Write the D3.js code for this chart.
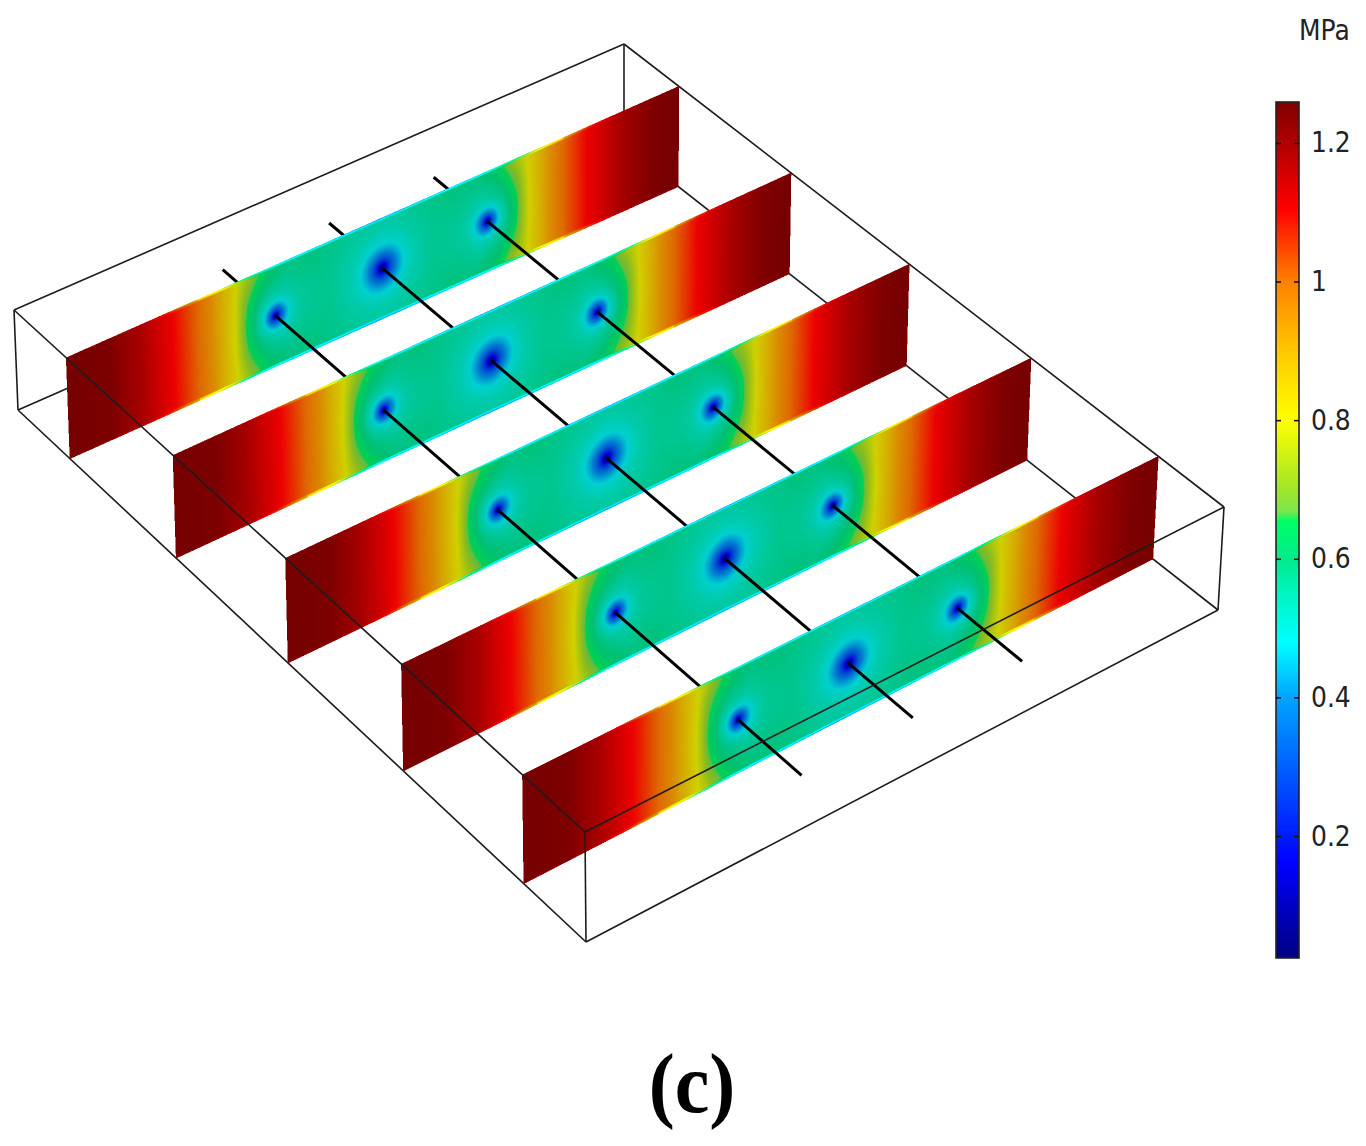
<!DOCTYPE html>
<html>
<head>
<meta charset="utf-8">
<script src="https://cdnjs.cloudflare.com/ajax/libs/d3/7.8.5/d3.min.js"></script>
<style>
html,body{margin:0;padding:0;background:#fff}
svg{display:block}
text{font-family:"DejaVu Sans",sans-serif;fill:#222}
</style>
</head>
<body>
<svg id="chart" width="1366" height="1146" viewBox="0 0 1366 1146"></svg>
<script>
// ---- values ----
const unitLabel = "MPa";
const panelLabel = "(c)";
const tickValues = [0.2, 0.4, 0.6, 0.8, 1, 1.2];
const valueExtent = [0.024, 1.259];
// colour legend: value -> colour
const legendValues = [0.024, 0.16, 0.4, 0.48, 0.55, 0.6, 0.655, 0.668, 0.7, 0.8, 0.9, 1.0, 1.105, 1.259];
const legendColors = ["#000080", "#0000ff", "#00a5ff", "#00ffff", "#00f5c0", "#00eb8c", "#00ff64", "#78e650", "#a0e628", "#ffff00", "#ffc800", "#ff8000", "#ff0000", "#800000"];
// where the five sections sit along the depth of the box (0..1)
const sectionDepths = [0.091, 0.278, 0.475, 0.678, 0.89];
// where the three wells cross each section (0..1 along the section)
const wellOffsets = [0.34, 0.515, 0.687];
const wellSpread = [0.9, 1.4, 0.9];
// stress along a section, mid-span, away from the wells
const profileOffsets = [0, 0.07, 0.12, 0.173, 0.238, 0.277, 0.3, 0.318, 0.335, 0.37, 0.515, 0.66, 0.695, 0.71, 0.753, 0.79, 0.85, 0.905, 0.96, 1];
const profileStress = [1.26, 1.25, 1.195, 1.105, 0.94, 0.8, 0.72, 0.665, 0.625, 0.59, 0.58, 0.59, 0.625, 0.665, 0.8, 0.94, 1.105, 1.195, 1.25, 1.26];
// stress drop around a well, by distance from its centre
const dropDistances = [0, 2, 4, 7, 11, 16, 24, 38, 60];
const dropStress = [0.54, 0.46, 0.36, 0.26, 0.165, 0.095, 0.05, 0.02, 0];

// ---- box corners as projected on the page (layout) ----
const corner = {
  A: [624, 44], B: [14, 310], C: [585, 832], D: [1224, 507],
  a: [624, 144], b: [18, 410], c: [586, 942], d: [1218, 610]
};

const svg = d3.select("#chart");
svg.append("rect").attr("width", 1366).attr("height", 1146).attr("fill", "#fff");

const lerp2 = (p, q, t) => [p[0] + (q[0] - p[0]) * t, p[1] + (q[1] - p[1]) * t];
// u along the section, v down the height, s along the depth
function project(u, v, s) {
  const top = lerp2(lerp2(corner.B, corner.A, u), lerp2(corner.C, corner.D, u), s);
  const bot = lerp2(lerp2(corner.b, corner.a, u), lerp2(corner.c, corner.d, u), s);
  return lerp2(top, bot, v);
}

const colorScale = d3.scaleLinear().domain(legendValues).range(legendColors).clamp(true);
const profileScale = d3.scaleLinear().domain(profileOffsets).range(profileStress).clamp(true);
const dropScale = d3.scaleLinear().domain(dropDistances).range(dropStress).clamp(true);

// colour table for the shaded section surface
const LUT_N = 2048;
const lutValue = d3.scaleLinear().domain([0, LUT_N - 1]).range(valueExtent);
const lut = new Uint8Array(LUT_N * 6);
for (let i = 0; i < LUT_N; i++) {
  const c = d3.rgb(colorScale(lutValue(i)));
  lut[i * 6] = c.r * (0.93 - 0.11 * c.g / 255);
  lut[i * 6 + 1] = c.g * 0.82;
  lut[i * 6 + 2] = c.b * 0.82;
  lut[i * 6 + 3] = c.r; lut[i * 6 + 4] = c.g; lut[i * 6 + 5] = c.b;
}
const lutIndex = d3.scaleLinear().domain(valueExtent).range([0, LUT_N - 1]).clamp(true);

const dropTable = new Float32Array(801);
for (let i = 0; i <= 800; i++) dropTable[i] = dropScale(i / 10);

function renderSection(g, s) {
  const q = [project(0, 0, s), project(1, 0, s), project(0, 1, s), project(1, 1, s)];
  const x0 = Math.floor(d3.min(q, p => p[0])) - 1, x1 = Math.ceil(d3.max(q, p => p[0])) + 1;
  const y0 = Math.floor(d3.min(q, p => p[1])) - 1, y1 = Math.ceil(d3.max(q, p => p[1])) + 1;
  const SS = 2, W = (x1 - x0) * SS, H = (y1 - y0) * SS;
  const cv = document.createElement("canvas"); cv.width = W; cv.height = H;
  const ctx = cv.getContext("2d");
  const img = ctx.createImageData(W, H);
  const spanU = q[1][0] - q[0][0], spanV = q[2][1] - q[0][1];
  const nu = 2200, nv = 520;
  const bulge = 0.021;
  for (let iu = 0; iu <= nu; iu++) {
    const u = iu / nu;
    const t = lerp2(q[0], q[1], u), b = lerp2(q[2], q[3], u);
    for (let iv = 0; iv <= nv; iv++) {
      const v = iv / nv;
      const curve = 1 - (2 * v - 1) * (2 * v - 1);
      let uu = u;
      if (u > 0.275 && u < 0.37) uu = u + bulge * curve * Math.min(1, (u - 0.275) / 0.02);
      else if (u > 0.66 && u < 0.755) uu = u - bulge * curve * Math.min(1, (0.755 - u) / 0.02);
      let val = profileScale(uu);
      const dy = (v - 0.5) * spanV;
      for (let k = 0; k < wellOffsets.length; k++) {
        const dx = (u - wellOffsets[k]) * spanU;
        if (Math.abs(dx) > 85) continue;
        const r = Math.sqrt(dx * dx + dy * dy * 0.8) / wellSpread[k];
        val -= dropTable[Math.min(800, Math.round(r * 10))];
      }
      const rim = Math.min(v, 1 - v) * spanV;
      let shade = 0;
      if (rim < 3) {
        const fade = val > 1.0 ? Math.max(0.1, (1.2 - val) / 0.2) : 1;
        val -= 0.15 * fade * (1 - rim / 3);
        shade = rim < 2 && fade === 1 ? 3 : 0;
      }
      const li = Math.round(lutIndex(val)) * 6 + shade;
      const px = Math.round((t[0] + (b[0] - t[0]) * v - x0) * SS);
      const py = Math.round((t[1] + (b[1] - t[1]) * v - y0) * SS);
      const o = (py * W + px) * 4;
      img.data[o] = lut[li]; img.data[o + 1] = lut[li + 1]; img.data[o + 2] = lut[li + 2]; img.data[o + 3] = 255;
    }
  }
  ctx.putImageData(img, 0, 0);
  g.append("image").attr("x", x0).attr("y", y0).attr("width", x1 - x0).attr("height", y1 - y0)
    .attr("href", cv.toDataURL("image/png"));
}

const line = d3.line();
const edge = (g, p, q) => g.append("path").attr("d", line([corner[p], corner[q]]))
  .attr("fill", "none").attr("stroke", "#1c1c1c").attr("stroke-width", 1.6);

// edges that lie behind the sections
const back = svg.append("g").attr("class", "box-back");
[["A", "B"], ["A", "D"], ["A", "a"], ["B", "b"], ["a", "b"], ["a", "d"], ["b", "c"], ["c", "d"], ["D", "d"]]
  .forEach(e => edge(back, e[0], e[1]));

// rods and sections, back to front
const stack = svg.append("g").attr("class", "sections");
const depthStops = [0].concat(sectionDepths, [1]);
depthStops.slice(0, -1).forEach((from, i) => {
  const to = depthStops[i + 1];
  const rods = stack.append("g").attr("class", "rods");
  wellOffsets.forEach(u => {
    rods.append("path").attr("d", line([project(u, 0.5, from), project(u, 0.5, to)]))
      .attr("fill", "none").attr("stroke", "#000").attr("stroke-width", 3);
  });
  if (i < sectionDepths.length) renderSection(stack.append("g").attr("class", "section"), to);
});

// edges in front of the sections
const front = svg.append("g").attr("class", "box-front");
[["B", "C"], ["C", "D"], ["C", "c"]].forEach(e => edge(front, e[0], e[1]));

// colour legend
const barX = 1276, barW = 23, barTop = 102, barBottom = 958;
const yLegend = d3.scaleLinear().domain(valueExtent).range([barBottom, barTop]);
const grad = svg.append("defs").append("linearGradient").attr("id", "legendGrad")
  .attr("gradientUnits", "userSpaceOnUse").attr("x1", 0).attr("x2", 0).attr("y1", barBottom).attr("y2", barTop);
grad.selectAll("stop").data(legendValues).join("stop")
  .attr("offset", d => (barBottom - yLegend(d)) / (barBottom - barTop))
  .attr("stop-color", (d, i) => legendColors[i]);
svg.append("rect").attr("x", barX).attr("y", barTop).attr("width", barW).attr("height", barBottom - barTop)
  .attr("fill", "url(#legendGrad)").attr("stroke", "#222").attr("stroke-width", 1.6);

const tickIn = (axis, x) => {
  const g = svg.append("g").attr("transform", `translate(${x},0)`)
    .call(axis.tickValues(tickValues).tickSize(5).tickFormat(""));
  g.select(".domain").remove();
  g.selectAll("line").attr("stroke", "#111").attr("stroke-width", 1.6);
};
tickIn(d3.axisRight(yLegend), barX);
tickIn(d3.axisLeft(yLegend), barX + barW);

const labels = svg.append("g").attr("transform", "translate(1311,0)")
  .call(d3.axisRight(yLegend).tickValues(tickValues).tickSize(0).tickPadding(0).tickFormat(d3.format("~g")));
labels.select(".domain").remove();
labels.selectAll("text")
  .attr("x", 0).attr("dy", null).attr("y", 0)
  .attr("font-size", 25)
  .attr("font-family", '"DejaVu Sans",sans-serif')
  .attr("fill", "#222")
  .attr("transform", "translate(0,9) scale(1,1.16)");

svg.append("text").attr("transform", "translate(1299,40) scale(1,1.16)")
  .attr("font-size", 25).text(unitLabel);

svg.append("text").attr("transform", "translate(692,1112) scale(0.93,1)").attr("text-anchor", "middle")
  .style("font-family", '"Liberation Serif",serif').style("fill", "#000")
  .attr("font-weight", "bold").attr("font-size", 84).text(panelLabel);
</script>
</body>
</html>
